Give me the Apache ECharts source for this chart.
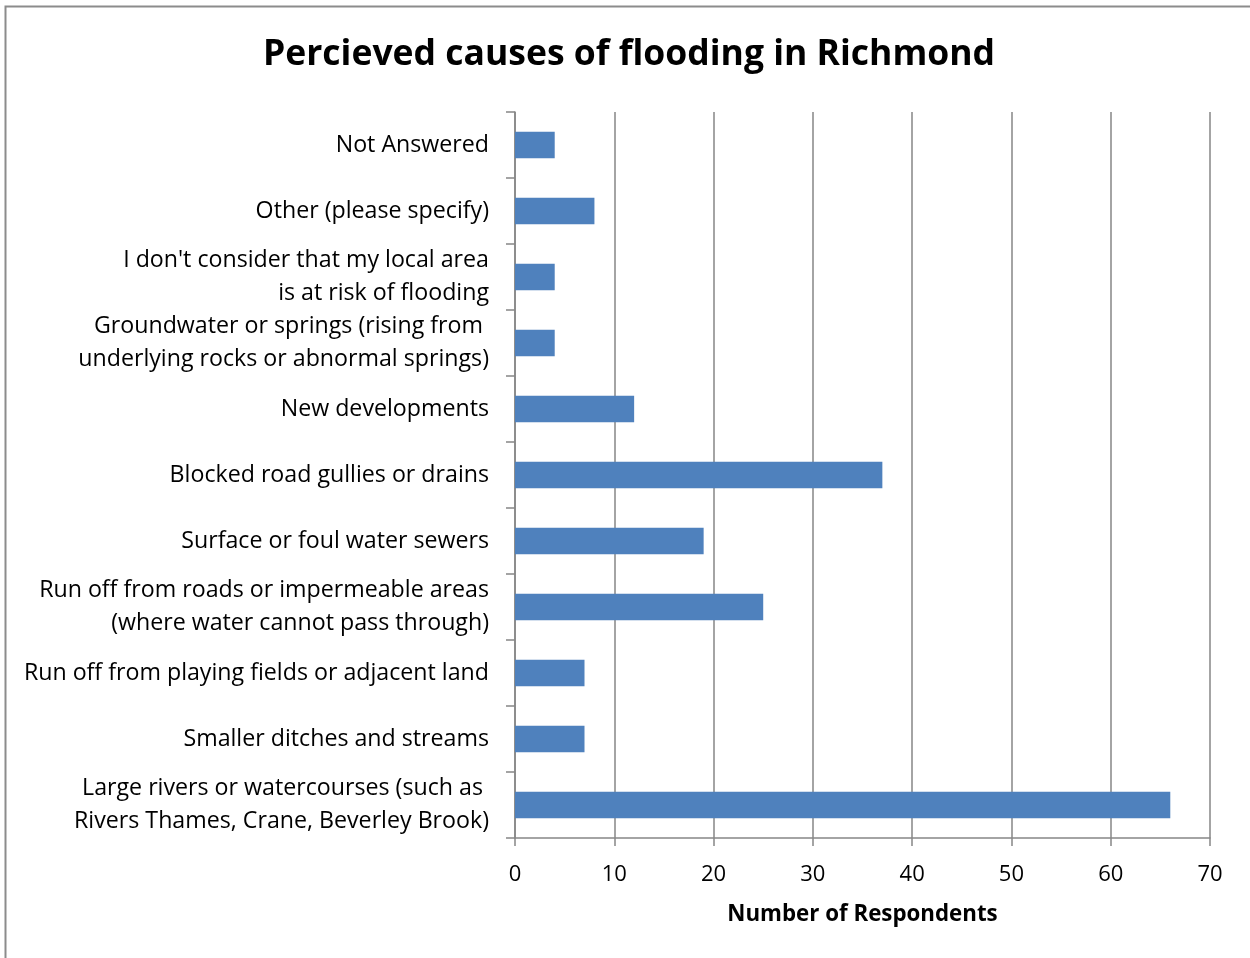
<!DOCTYPE html>
<html>
<head>
<meta charset="utf-8">
<script src="https://cdn.jsdelivr.net/npm/echarts@6/dist/echarts.min.js"></script>
<style>html,body{margin:0;padding:0;background:#fff;}#c{width:1250px;height:958px;}</style>
</head>
<body>
<div id="c"></div>
<script>
const categories = [
  "Large rivers or watercourses (such as \nRivers Thames, Crane, Beverley Brook)",
  "Smaller ditches and streams",
  "Run off from playing fields or adjacent land",
  "Run off from roads or impermeable areas\n(where water cannot pass through)",
  "Surface or foul water sewers",
  "Blocked road gullies or drains",
  "New developments",
  "Groundwater or springs (rising from \nunderlying rocks or abnormal springs)",
  "I don't consider that my local area\nis at risk of flooding",
  "Other (please specify)",
  "Not Answered"
];
const respondents = [66, 7, 7, 25, 19, 37, 12, 4, 4, 8, 4];
const xTicks = [0, 10, 20, 30, 40, 50, 60, 70];

const FONT = "Open Sans";
const chart = echarts.init(document.getElementById('c'), null, {renderer: 'canvas'});
chart.setOption({
  backgroundColor: '#ffffff',
  animation: false,
  title: {
    text: 'Percieved causes of flooding in Richmond',
    left: 624, top: 32, textAlign: 'center',
    textStyle: {fontFamily: FONT, fontWeight: 'bold', fontSize: 35.5, color: '#000'}
  },
  graphic: [{
    type: 'rect', shape: {x: 5.5, y: 6.5, width: 1400, height: 1100},
    style: {fill: 'none', stroke: '#8c8c8c', lineWidth: 2}, silent: true
  }],
  grid: {left: 515, right: 40, top: 112, bottom: 120, containLabel: false},
  xAxis: {
    type: 'value', min: xTicks[0], max: xTicks[xTicks.length - 1], interval: 10,
    name: 'Number of Respondents', nameLocation: 'middle', nameGap: 66,
    nameTextStyle: {fontFamily: FONT, fontWeight: 'bold', fontSize: 22.3, color: '#000'},
    axisLine: {show: true, lineStyle: {color: '#868686', width: 1.5}},
    axisTick: {show: true, length: 8, lineStyle: {color: '#868686', width: 1.5}},
    axisLabel: {fontFamily: FONT, fontSize: 22, color: '#000', margin: 26},
    splitLine: {show: true, lineStyle: {color: '#868686', width: 1.5}}
  },
  yAxis: {
    type: 'category', data: categories,
    axisLine: {show: true, lineStyle: {color: '#868686', width: 1.5}},
    axisTick: {show: true, length: 9, alignWithLabel: false, lineStyle: {color: '#868686', width: 1.5}},
    axisLabel: {fontFamily: FONT, fontSize: 23.2, color: '#000', margin: 26, lineHeight: 33, align: 'right', padding: [4, 0, 0, 0]},
    splitLine: {show: false}
  },
  series: [{
    type: 'bar', data: respondents, barWidth: '40%',
    itemStyle: {color: '#4F81BD'}
  }]
});
</script>
</body>
</html>
